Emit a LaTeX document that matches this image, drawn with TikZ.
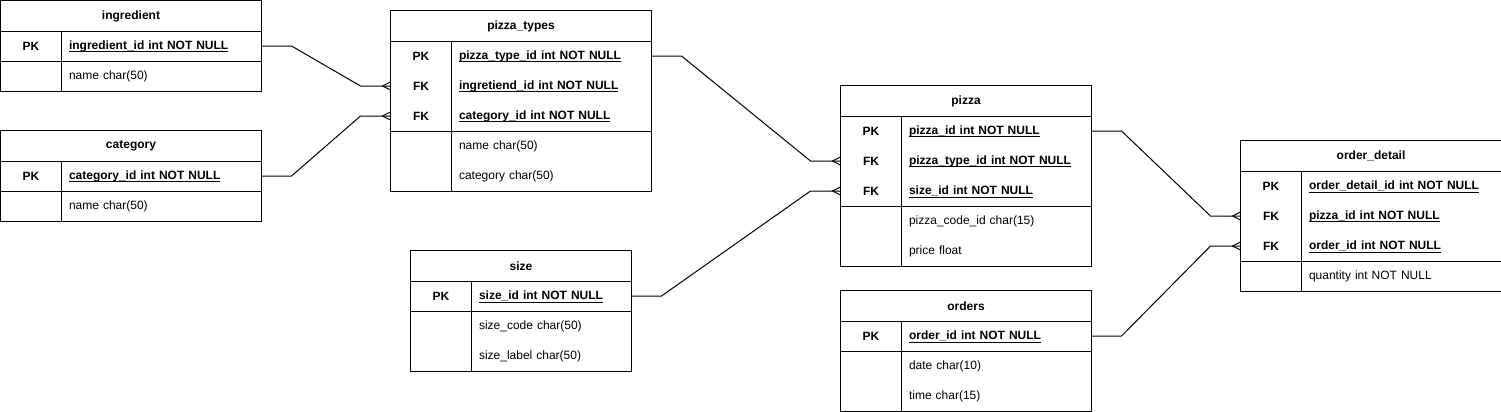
\documentclass[tikz,border=0pt]{standalone}
\usepackage{fontspec}
\setmainfont{Liberation Sans}
\usetikzlibrary{calc}
\newsavebox{\keybox}
\newcommand{\keyattr}[1]{\sbox{\keybox}{\bfseries #1}\rlap{\smash{\rule[-2.3pt]{\wd\keybox}{0.7pt}}}\usebox{\keybox}}

\begin{document}
\begin{tikzpicture}[x=0.75pt, y=-0.75pt, line width=0.75pt, font=\fontsize{9}{11}\selectfont,
	hdr/.style={anchor=north west, inner sep=0pt, minimum height=22.5pt, text width=#1, align=center, font=\fontsize{9}{11}\selectfont\bfseries},
	key/.style={anchor=north west, inner sep=0pt, minimum width=45pt, minimum height=22.5pt, font=\fontsize{9}{11}\selectfont\bfseries},
	fld/.style={anchor=north west, inner xsep=6pt, inner ysep=0pt, minimum height=22.5pt, text width=#1, align=left},
	many/.pic={\draw[line width=0.75pt] (0,-4) -- (-8,0) -- (0,4);}]
	\useasboundingbox (0,0) rectangle (1501,411);
	% ingredient
	\node[hdr=195pt] (ingr) at (0.5,0.5) {ingredient};
	\node[key] (ingr-k1) at (0.5,30.5) {PK};
	\node[fld=138pt] (ingr-f1) at (60.5,30.5) {\keyattr{ingredient\_id int NOT NULL}};
	\node[key] (ingr-k2) at (0.5,60.5) {};
	\node[fld=138pt] (ingr-f2) at (60.5,60.5) {name char(50)};
	\draw (ingr.north west) rectangle (ingr-f2.south east);
	\draw (ingr.south west) -- (ingr.south east);
	\draw (ingr-k1.south west) -- (ingr-f1.south east);
	\draw (ingr-k1.north east) -- (ingr-k2.south east);
	% category
	\node[hdr=195pt] (cat) at (0.5,130.5) {category};
	\node[key] (cat-k1) at (0.5,160.5) {PK};
	\node[fld=138pt] (cat-f1) at (60.5,160.5) {\keyattr{category\_id int NOT NULL}};
	\node[key] (cat-k2) at (0.5,190.5) {};
	\node[fld=138pt] (cat-f2) at (60.5,190.5) {name char(50)};
	\draw (cat.north west) rectangle (cat-f2.south east);
	\draw (cat.south west) -- (cat.south east);
	\draw (cat-k1.south west) -- (cat-f1.south east);
	\draw (cat-k1.north east) -- (cat-k2.south east);
	% pizza_types
	\node[hdr=195pt] (ptyp) at (390.5,10.5) {pizza\_types};
	\node[key] (ptyp-k1) at (390.5,40.5) {PK};
	\node[fld=138pt] (ptyp-f1) at (450.5,40.5) {\keyattr{pizza\_type\_id int NOT NULL}};
	\node[key] (ptyp-k2) at (390.5,70.5) {FK};
	\node[fld=138pt] (ptyp-f2) at (450.5,70.5) {\keyattr{ingretiend\_id int NOT NULL}};
	\node[key] (ptyp-k3) at (390.5,100.5) {FK};
	\node[fld=138pt] (ptyp-f3) at (450.5,100.5) {\keyattr{category\_id int NOT NULL}};
	\node[key] (ptyp-k4) at (390.5,130.5) {};
	\node[fld=138pt] (ptyp-f4) at (450.5,130.5) {name char(50)};
	\node[key] (ptyp-k5) at (390.5,160.5) {};
	\node[fld=138pt] (ptyp-f5) at (450.5,160.5) {category char(50)};
	\draw (ptyp.north west) rectangle (ptyp-f5.south east);
	\draw (ptyp.south west) -- (ptyp.south east);
	\draw (ptyp-k3.south west) -- (ptyp-f3.south east);
	\draw (ptyp-k1.north east) -- (ptyp-k5.south east);
	% size
	\node[hdr=165pt] (size) at (410.5,250.5) {size};
	\node[key] (size-k1) at (410.5,280.5) {PK};
	\node[fld=108pt] (size-f1) at (470.5,280.5) {\keyattr{size\_id int NOT NULL}};
	\node[key] (size-k2) at (410.5,310.5) {};
	\node[fld=108pt] (size-f2) at (470.5,310.5) {size\_code char(50)};
	\node[key] (size-k3) at (410.5,340.5) {};
	\node[fld=108pt] (size-f3) at (470.5,340.5) {size\_label char(50)};
	\draw (size.north west) rectangle (size-f3.south east);
	\draw (size.south west) -- (size.south east);
	\draw (size-k1.south west) -- (size-f1.south east);
	\draw (size-k1.north east) -- (size-k3.south east);
	% pizza
	\node[hdr=187.5pt] (pz) at (840.5,85.5) {pizza};
	\node[key] (pz-k1) at (840.5,115.5) {PK};
	\node[fld=130.5pt] (pz-f1) at (900.5,115.5) {\keyattr{pizza\_id int NOT NULL}};
	\node[key] (pz-k2) at (840.5,145.5) {FK};
	\node[fld=130.5pt] (pz-f2) at (900.5,145.5) {\keyattr{pizza\_type\_id int NOT NULL}};
	\node[key] (pz-k3) at (840.5,175.5) {FK};
	\node[fld=130.5pt] (pz-f3) at (900.5,175.5) {\keyattr{size\_id int NOT NULL}};
	\node[key] (pz-k4) at (840.5,205.5) {};
	\node[fld=130.5pt] (pz-f4) at (900.5,205.5) {pizza\_code\_id char(15)};
	\node[key] (pz-k5) at (840.5,235.5) {};
	\node[fld=130.5pt] (pz-f5) at (900.5,235.5) {price float};
	\draw (pz.north west) rectangle (pz-f5.south east);
	\draw (pz.south west) -- (pz.south east);
	\draw (pz-k3.south west) -- (pz-f3.south east);
	\draw (pz-k1.north east) -- (pz-k5.south east);
	% orders
	\node[hdr=187.5pt] (ord) at (840.5,290.5) {orders};
	\node[key] (ord-k1) at (840.5,320.5) {PK};
	\node[fld=130.5pt] (ord-f1) at (900.5,320.5) {\keyattr{order\_id int NOT NULL}};
	\node[key] (ord-k2) at (840.5,350.5) {};
	\node[fld=130.5pt] (ord-f2) at (900.5,350.5) {date char(10)};
	\node[key] (ord-k3) at (840.5,380.5) {};
	\node[fld=130.5pt] (ord-f3) at (900.5,380.5) {time char(15)};
	\draw (ord.north west) rectangle (ord-f3.south east);
	\draw (ord.south west) -- (ord.south east);
	\draw (ord-k1.south west) -- (ord-f1.south east);
	\draw (ord-k1.north east) -- (ord-k3.south east);
	% order_detail
	\node[hdr=195pt] (odet) at (1240.5,140.5) {order\_detail};
	\node[key] (odet-k1) at (1240.5,170.5) {PK};
	\node[fld=138pt] (odet-f1) at (1300.5,170.5) {\keyattr{order\_detail\_id int NOT NULL}};
	\node[key] (odet-k2) at (1240.5,200.5) {FK};
	\node[fld=138pt] (odet-f2) at (1300.5,200.5) {\keyattr{pizza\_id int NOT NULL}};
	\node[key] (odet-k3) at (1240.5,230.5) {FK};
	\node[fld=138pt] (odet-f3) at (1300.5,230.5) {\keyattr{order\_id int NOT NULL}};
	\node[key] (odet-k4) at (1240.5,260.5) {};
	\node[fld=138pt] (odet-f4) at (1300.5,260.5) {quantity int NOT NULL};
	\draw (odet.north west) rectangle (odet-f4.south east);
	\draw (odet.south west) -- (odet.south east);
	\draw (odet-k3.south west) -- (odet-f3.south east);
	\draw (odet-k1.north east) -- (odet-k4.south east);
	% relations
	\draw (ingr-f1.east) -- ++(30,0) -- ($(ptyp-k2.west)+(-30,0)$) -- (ptyp-k2.west);
	\draw (cat-f1.east) -- ++(30,0) -- ($(ptyp-k3.west)+(-30,0)$) -- (ptyp-k3.west);
	\draw (ptyp-f1.east) -- ++(30,0) -- ($(pz-k2.west)+(-30,0)$) -- (pz-k2.west);
	\draw (size-f1.east) -- ++(30,0) -- ($(pz-k3.west)+(-30,0)$) -- (pz-k3.west);
	\draw (pz-f1.east) -- ++(30,0) -- ($(odet-k2.west)+(-30,0)$) -- (odet-k2.west);
	\draw (ord-f1.east) -- ++(30,0) -- ($(odet-k3.west)+(-30,0)$) -- (odet-k3.west);
	\pic at (ptyp-k2.west) {many};
	\pic at (ptyp-k3.west) {many};
	\pic at (pz-k2.west) {many};
	\pic at (pz-k3.west) {many};
	\pic at (odet-k2.west) {many};
	\pic at (odet-k3.west) {many};
\end{tikzpicture}
\end{document}
